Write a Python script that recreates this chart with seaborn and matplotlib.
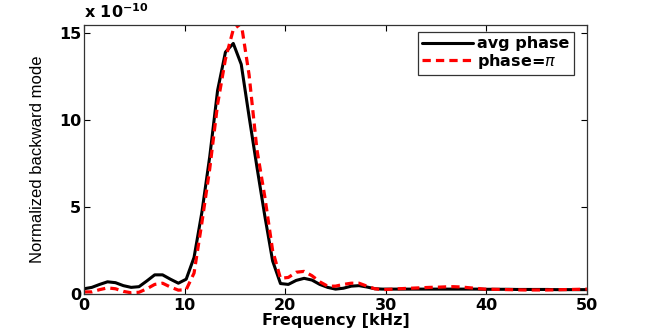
import matplotlib
matplotlib.use('Agg')
import matplotlib.pyplot as plt
import numpy as np
import pandas as pd
import seaborn as sns

## --- data (values in units of 1e-10)

freq = [0.00, 0.78, 1.56, 2.34, 3.13, 3.91, 4.69, 5.47, 6.25, 7.03,
        7.81, 8.59, 9.38, 10.16, 10.94, 11.72, 12.50, 13.28, 14.06, 14.84,
        15.63, 16.41, 17.19, 17.97, 18.75, 19.53, 20.31, 21.09, 21.88, 22.66,
        23.44, 24.22, 25.00, 25.78, 26.56, 27.34, 28.13, 28.91, 29.69, 30.47,
        31.25, 32.03, 32.81, 33.59, 34.38, 35.16, 35.94, 36.72, 37.50, 38.28,
        39.06, 39.84, 40.63, 41.41, 42.19, 42.97, 43.75, 44.53, 45.31, 46.09,
        46.88, 47.66, 48.44, 49.22, 50.00]

avg_phase = [0.30, 0.38, 0.55, 0.70, 0.65, 0.48, 0.38, 0.42, 0.75, 1.10,
             1.10, 0.85, 0.62, 0.85, 2.10, 4.70, 7.90, 11.70, 13.90, 14.40,
             13.20, 10.20, 7.30, 4.50, 1.90, 0.60, 0.55, 0.78, 0.90, 0.80,
             0.55, 0.38, 0.28, 0.33, 0.45, 0.48, 0.40, 0.30, 0.28, 0.28,
             0.28, 0.28, 0.28, 0.28, 0.28, 0.28, 0.28, 0.28, 0.28, 0.28,
             0.28, 0.27, 0.27, 0.27, 0.27, 0.26, 0.26, 0.26, 0.26, 0.26,
             0.25, 0.25, 0.25, 0.25, 0.25]

phase_pi = [0.12, 0.12, 0.25, 0.35, 0.30, 0.15, 0.07, 0.10, 0.30, 0.55,
            0.62, 0.40, 0.22, 0.25, 1.20, 4.10, 7.20, 10.90, 13.50, 15.20,
            15.55, 12.60, 8.30, 5.60, 2.50, 0.90, 0.95, 1.25, 1.30, 1.05,
            0.70, 0.45, 0.45, 0.55, 0.62, 0.62, 0.45, 0.30, 0.25, 0.27,
            0.30, 0.32, 0.34, 0.36, 0.38, 0.39, 0.41, 0.42, 0.40, 0.36,
            0.32, 0.28, 0.27, 0.26, 0.25, 0.24, 0.23, 0.23, 0.23, 0.23,
            0.24, 0.25, 0.26, 0.27, 0.28]

df = pd.DataFrame({'freq': freq, 'avg': avg_phase, 'pi': phase_pi})

## --- style

sns.set_style('ticks')
plt.rcParams['font.family'] = ['DejaVu Sans']
plt.rcParams['xtick.direction'] = 'in'
plt.rcParams['ytick.direction'] = 'in'
plt.rcParams['text.color'] = 'black'
plt.rcParams['axes.labelcolor'] = 'black'
plt.rcParams['xtick.color'] = 'black'
plt.rcParams['ytick.color'] = 'black'

fig = plt.figure(figsize=(6.48, 3.32), dpi=100)
ax = fig.add_axes([0.1296, 0.1145, 0.7763, 0.8102])

sns.lineplot(data=df, x='freq', y='avg', ax=ax, color='black', lw=2.2,
             label='avg phase')
sns.lineplot(data=df, x='freq', y='pi', ax=ax, color='#ff0000', lw=2.3,
             label=r'phase=$\pi$')
ax.lines[1].set_dashes([2.6, 1.6])

ax.set_xlim(0, 50)
ax.set_ylim(0, 15.46)
ax.set_xticks([0, 10, 20, 30, 40, 50])
ax.set_yticks([0, 5, 10, 15])
ax.tick_params(top=True, right=True, length=4, width=0.8, labelsize=11.5)
ax.tick_params(axis='x', pad=3)
ax.tick_params(axis='y', pad=2)
for lab in ax.get_xticklabels() + ax.get_yticklabels():
    lab.set_fontweight('bold')
for sp in ax.spines.values():
    sp.set_visible(True)
    sp.set_linewidth(0.9)
    sp.set_color('#333333')

ax.set_xlabel('Frequency [kHz]', fontsize=11.5, fontweight='bold',
              labelpad=0)
ax.set_ylabel('Normalized backward mode', fontsize=12,
              family=['Liberation Sans Narrow', 'Liberation Sans'],
              labelpad=10)

ax.text(0.0, 1.015, r'x $\mathbf{10^{-10}}$', transform=ax.transAxes,
        fontsize=11.5, fontweight='bold', ha='left', va='bottom')

leg = ax.legend(loc='upper right', bbox_to_anchor=(0.98, 0.985),
                frameon=True, fancybox=False, edgecolor='black',
                prop={'weight': 'bold', 'size': 11.5}, handlelength=3.2,
                handletextpad=0.25, borderpad=0.25, labelspacing=0.05,
                borderaxespad=0.2)
leg.get_frame().set_linewidth(0.9)
for t in leg.get_texts():
    t.set_color('black')

fig.savefig('out.png', dpi=100)
